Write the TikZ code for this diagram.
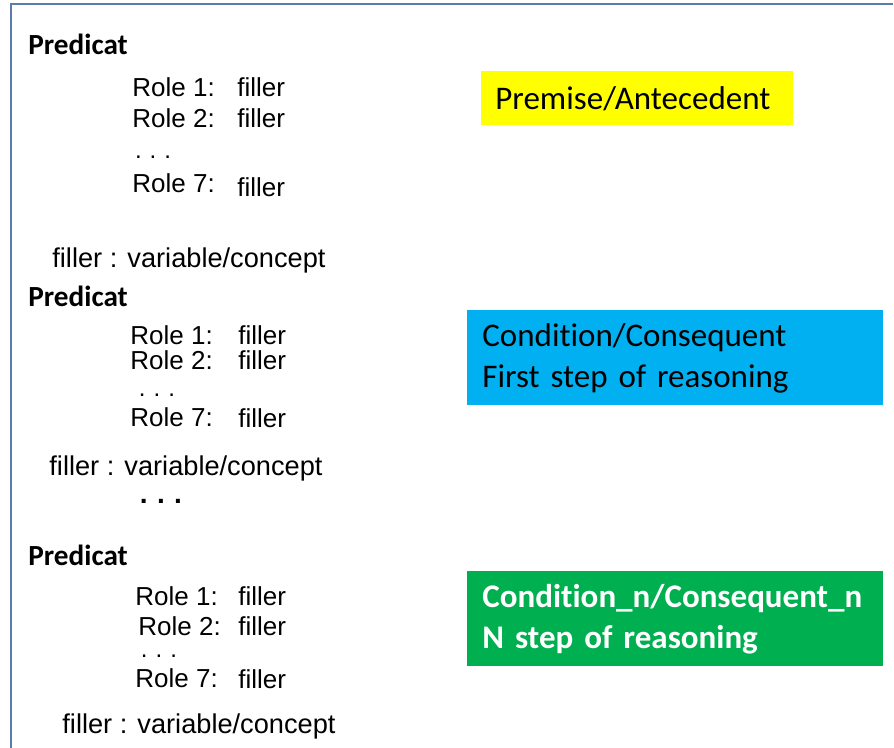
\documentclass[tikz,border=0pt]{standalone}
\usepackage{fontspec}
\setmainfont{Liberation Sans}
\newfontfamily\calibri[Ligatures=NoCommon,WordSpace=0.75]{Carlito}
\usetikzlibrary{positioning}

\definecolor{keret}{RGB}{91,124,170}
\definecolor{sarga}{RGB}{255,255,0}
\definecolor{kek}{RGB}{0,176,240}
\definecolor{zold}{RGB}{0,176,80}

\tikzset{
  pred/.style={anchor=base west,inner sep=0pt,font=\calibri\bfseries\fontsize{14.6}{16}\selectfont},
  szerep/.style={anchor=base west,inner sep=0pt,font=\fontsize{13}{15}\selectfont},
  megj/.style={anchor=base west,inner sep=0pt,font=\fontsize{13.6}{15}\selectfont},
  pontok/.style={inner sep=0pt,font=\fontsize{12}{14}\selectfont},
  kocka/.style={anchor=north west,inner ysep=0pt,align=left,
                font=\calibri\fontsize{16.5}{20.5}\selectfont},
  keretvonal/.style={draw=keret,line width=1pt},
}

\begin{document}
\begin{tikzpicture}[x=0.5pt,y=-0.5pt]
  \useasboundingbox (0,0) rectangle (894,748);
  \draw[keretvonal] (893,4) -- (11,4) -- (11,748);

  % first predicate
  \node[pred] (p1) at (28,55) {Predicat};
  \foreach \n/\x/\y/\fy in {1/132/97/97, 2/132/128/128, 7/132/193/197}{
    \node[szerep] (a-r\n) at (\x,\y) {Role \n:};
    \node[szerep] (a-f\n) at (237,\fy) {filler};
  }
  \node[pontok] (a-pt) at (153,157) {.\,\,.\,\,.};
  \node[megj] (a-m) at (52,268) {filler : variable/concept};

  % second predicate
  \node[pred] (p2) at (28,307) {Predicat};
  \foreach \n/\x/\y/\fy in {1/130/345/345, 2/130/370/370, 7/130/427/428}{
    \node[szerep] (b-r\n) at (\x,\y) {Role \n:};
    \node[szerep] (b-f\n) at (238,\fy) {filler};
  }
  \node[pontok] (b-pt) at (157,395) {.\,\,.\,\,.};
  \node[megj] (b-m) at (49,475) {filler : variable/concept};
  \node[pontok,font=\bfseries\fontsize{14}{16}\selectfont] (b-tovabb) at (161,501) {.\,\,.\,\,.};

  % n-th predicate
  \node[pred] (p3) at (28,565) {Predicat};
  \foreach \n/\x/\y/\fy in {1/135/605/605, 2/138/635/635, 7/135/687/688}{
    \node[szerep] (c-r\n) at (\x,\y) {Role \n:};
    \node[szerep] (c-f\n) at (238,\fy) {filler};
  }
  \node[pontok] (c-pt) at (159,656) {.\,\,.\,\,.};
  \node[megj] (c-m) at (62,733) {filler : variable/concept};

  % coloured labels
  \node[kocka,fill=sarga,inner xsep=7pt,text width=142pt,minimum height=27pt]
    (premissza) at (481,71) {Premise/Antecedent};
  \node[kocka,fill=kek,inner xsep=7.5pt,text width=193pt,minimum height=47.5pt]
    (lepes1) at (467,310) {Condition/Consequent\\First step of reasoning};
  \node[kocka,fill=zold,text=white,font=\calibri\bfseries\fontsize{16.5}{20.5}\selectfont,
        inner xsep=7.5pt,text width=193pt,minimum height=47.5pt]
    (lepesn) at (467,571) {Condition\_n/Consequent\_n\\N step of reasoning};
\end{tikzpicture}
\end{document}
